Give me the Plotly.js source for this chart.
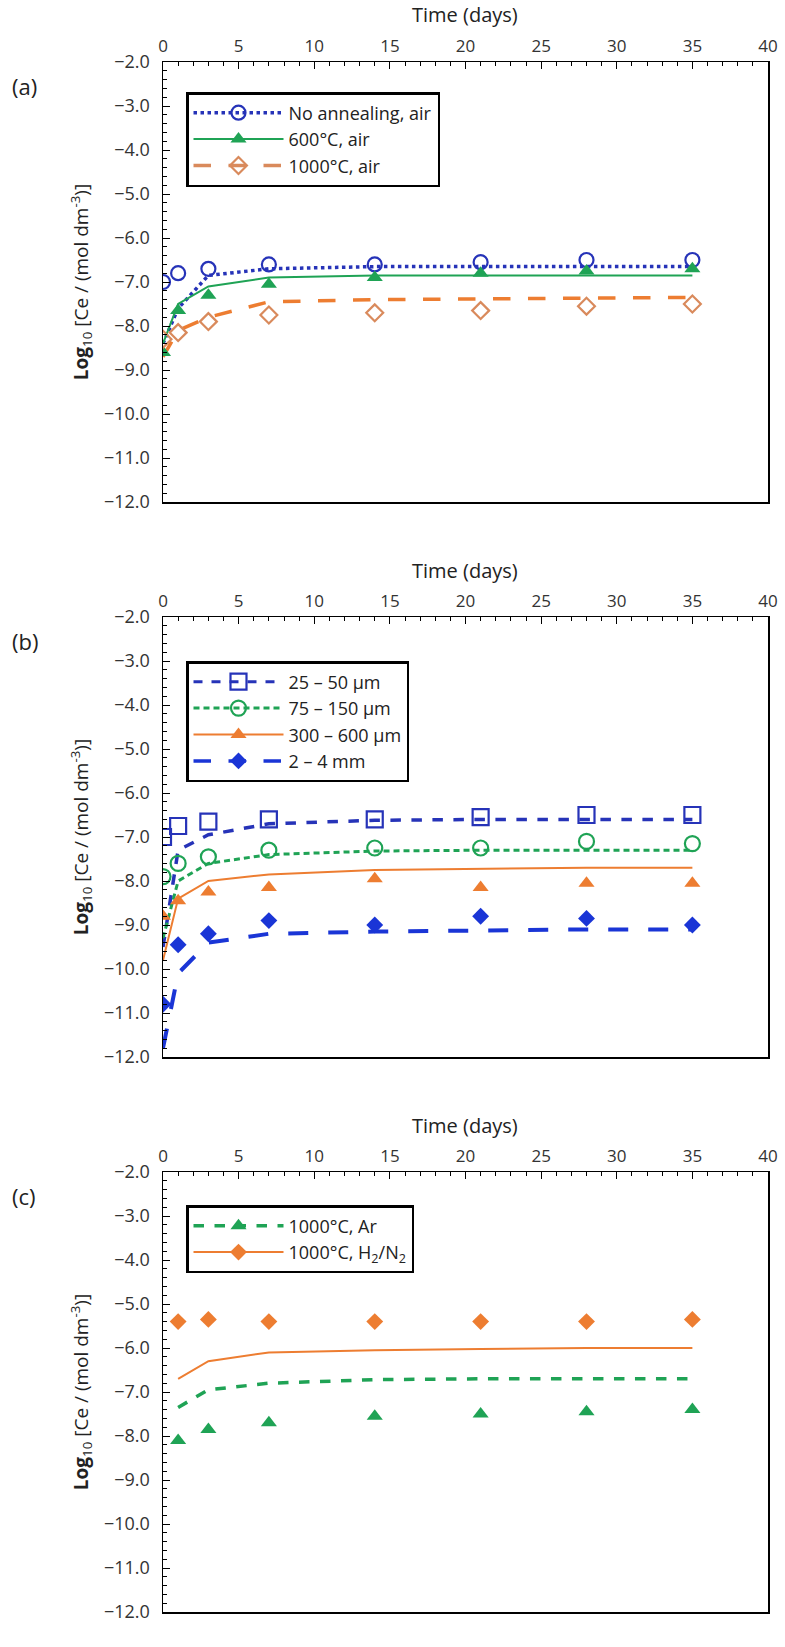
<!DOCTYPE html>
<html>
<head>
<meta charset="utf-8">
<script src="https://cdn.plot.ly/plotly-3.0.1.min.js"></script>
<style>body{margin:0;background:#fff}</style>
</head>
<body>
<div id="chart" style="width:785px;height:1647px"></div>
<script>
// sampling times (days)
const tData = [0, 1, 3, 7, 14, 21, 28, 35];
const tDataC = [1, 3, 7, 14, 21, 28, 35];

// (a) annealing atmosphere
const aNoAnnealPts = [-7.0, -6.8, -6.7, -6.6, -6.6, -6.55, -6.5, -6.5];
const a600Pts = [-8.6, -7.65, -7.3, -7.05, -6.9, -6.8, -6.75, -6.7];
const a1000Pts = [-8.3, -8.15, -7.9, -7.75, -7.7, -7.65, -7.55, -7.5];
const aNoAnnealFit = [-8.4, -7.6, -6.85, -6.7, -6.65, -6.65, -6.65, -6.65];
const a600Fit = [-8.4, -7.5, -7.1, -6.9, -6.85, -6.85, -6.85, -6.85];
const a1000Fit = [-8.7, -8.1, -7.8, -7.45, -7.4, -7.38, -7.36, -7.35];

// (b) particle size
const b25Pts = [-7.0, -6.75, -6.65, -6.6, -6.6, -6.55, -6.5, -6.5];
const b75Pts = [-7.9, -7.6, -7.45, -7.3, -7.25, -7.25, -7.1, -7.15];
const b300Pts = [-8.8, -8.45, -8.25, -8.15, -7.95, -8.15, -8.05, -8.05];
const b2mmPts = [-10.8, -9.45, -9.2, -8.9, -9.0, -8.8, -8.85, -9.0];
const b25Fit = [-9.5, -7.3, -6.95, -6.7, -6.62, -6.6, -6.6, -6.6];
const b75Fit = [-9.3, -8.0, -7.6, -7.4, -7.32, -7.3, -7.3, -7.3];
const b300Fit = [-9.8, -8.4, -8.0, -7.85, -7.75, -7.72, -7.7, -7.7];
const b2mmFit = [-11.8, -10.1, -9.4, -9.2, -9.15, -9.12, -9.1, -9.1];

// (c) 1000 °C, different gas
const cArPts = [-8.1, -7.85, -7.7, -7.55, -7.5, -7.45, -7.4];
const cH2Pts = [-5.4, -5.35, -5.4, -5.4, -5.4, -5.4, -5.35];
const cArFit = [-7.35, -6.95, -6.8, -6.72, -6.7, -6.7, -6.7];
const cH2Fit = [-6.7, -6.3, -6.1, -6.05, -6.02, -6.0, -6.0];

const BLUE = '#2633b8', BLUE2 = '#1a35d6', GREEN = '#1fa355', ORANGE = '#ed7d31', TAN = '#d98a5c';
const W = 785, H = 1647;
const FONT = 'Open Sans, Liberation Sans, sans-serif';

const mk = (sym, color, size) => ({symbol: sym, size: size, color: color,
  line: {color: color, width: sym.endsWith('-open') ? 2.2 : 0}});
const pts = (x, y, ax, sym, color, size) => ({
  x: x, y: y, xaxis: 'x' + ax, yaxis: 'y' + ax, mode: 'markers', type: 'scatter', showlegend: false,
  marker: mk(sym, color, size)
});
const fit = (x, y, ax, color, dash, width) => ({
  x: x, y: y, xaxis: 'x' + ax, yaxis: 'y' + ax, mode: 'lines', type: 'scatter', showlegend: false,
  line: {color: color, dash: dash, width: width}
});
// legend-only entries (marker + line sample)
const leg = (name, ax, legend, sym, color, size, dash, width) => ({
  x: [null], y: [null], xaxis: 'x' + ax, yaxis: 'y' + ax, mode: 'lines+markers', type: 'scatter',
  name: name, legend: legend, marker: mk(sym, color, size),
  line: {color: color, dash: dash, width: width}
});

const traces = [
  fit(tData, aNoAnnealFit, '', BLUE, 'dot', 3.5),
  fit(tData, a600Fit, '', GREEN, 'solid', 2),
  fit(tData, a1000Fit, '', ORANGE, 'longdash', 3.5),
  pts(tData, aNoAnnealPts, '', 'circle-open', BLUE, 14),
  pts(tData, a600Pts, '', 'triangle-up', GREEN, 14),
  pts(tData, a1000Pts, '', 'diamond-open', TAN, 13),
  leg('No annealing, air', '', 'legend', 'circle-open', BLUE, 14, 'dot', 3.5),
  leg('600°C, air', '', 'legend', 'triangle-up', GREEN, 14, 'solid', 2),
  leg('1000°C, air', '', 'legend', 'diamond-open', TAN, 13, 'longdash', 3.5),

  fit(tData, b25Fit, '2', BLUE, 'dash', 3.5),
  fit(tData, b75Fit, '2', GREEN, '6px,4px', 3),
  fit(tData, b300Fit, '2', ORANGE, 'solid', 2),
  fit(tData, b2mmFit, '2', BLUE2, 'longdash', 4),
  pts(tData, b25Pts, '2', 'square-open', BLUE, 16),
  pts(tData, b75Pts, '2', 'circle-open', GREEN, 15),
  pts(tData, b300Pts, '2', 'triangle-up', ORANGE, 14),
  pts(tData, b2mmPts, '2', 'diamond', BLUE2, 13),
  leg('25 – 50 µm', '2', 'legend2', 'square-open', BLUE, 16, 'dash', 3),
  leg('75 – 150 µm', '2', 'legend2', 'circle-open', GREEN, 15, '6px,4px', 3),
  leg('300 – 600 µm', '2', 'legend2', 'triangle-up', ORANGE, 14, 'solid', 2),
  leg('2 – 4 mm', '2', 'legend2', 'diamond', BLUE2, 13, 'longdash', 3.5),

  fit(tDataC, cArFit, '3', GREEN, 'dash', 3.5),
  fit(tDataC, cH2Fit, '3', ORANGE, 'solid', 2),
  pts(tDataC, cArPts, '3', 'triangle-up', GREEN, 14),
  pts(tDataC, cH2Pts, '3', 'diamond', ORANGE, 13),
  leg('1000°C, Ar', '3', 'legend3', 'triangle-up', GREEN, 14, 'dash', 3.5),
  leg('1000°C, H<sub>2</sub>/N<sub>2</sub>', '3', 'legend3', 'diamond', ORANGE, 13, 'solid', 2)
];

const tops = [62, 617, 1172];   // pixel top of each plot area
const PH = 440;                  // plot area height
const xdom = [163 / W, 768 / W];
const xAx = (anchor) => ({
  domain: xdom, anchor: anchor, side: 'top', range: [0, 40], dtick: 5,
  ticks: 'inside', ticklen: 7, tickcolor: '#000', showline: true, linecolor: '#000', linewidth: 1.5,
  mirror: true, showgrid: false, zeroline: false, ticklabelstandoff: 2,
  minor: {ticks: 'inside', dtick: 1, ticklen: 4, tickcolor: '#000'},
  tickfont: {size: 17, color: '#333'}
});
const yAx = (anchor, top) => ({
  domain: [1 - (top + PH) / H, 1 - top / H], anchor: anchor, range: [-12, -2], dtick: 1, tickformat: '.1f',
  ticks: 'inside', ticklen: 7, tickcolor: '#000', showline: true, linecolor: '#000', linewidth: 1.5,
  mirror: true, showgrid: false, zeroline: false, ticklabelstandoff: 8,
  minor: {ticks: 'inside', dtick: 0.2, ticklen: 4, tickcolor: '#000'},
  tickfont: {size: 18, color: '#333'},
  title: {text: '<b>Log</b><sub>10</sub> [Ce / (mol dm<sup>-3</sup>)]', font: {size: 19, color: '#222'}, standoff: 10}
});
const legBox = (top) => ({
  x: 186 / W, y: 1 - top / H, xanchor: 'left', yanchor: 'top', bgcolor: '#fff', bordercolor: '#000', borderwidth: 2.5,
  font: {size: 18, color: '#222', family: FONT}, itemwidth: 90, tracegroupgap: 4
});
const note = (text, x, y, size, xanchor) => ({
  text: text, xref: 'paper', yref: 'paper', x: x / W, y: 1 - y / H, xanchor: xanchor, yanchor: 'middle',
  showarrow: false, font: {size: size, color: '#222'}
});

const layout = {
  width: W, height: H, margin: {l: 0, r: 0, t: 0, b: 0},
  paper_bgcolor: '#fff', plot_bgcolor: '#fff',
  font: {family: FONT},
  xaxis: xAx('y'), yaxis: yAx('x', tops[0]),
  xaxis2: xAx('y2'), yaxis2: yAx('x2', tops[1]),
  xaxis3: xAx('y3'), yaxis3: yAx('x3', tops[2]),
  legend: legBox(tops[0] + 30),
  legend2: legBox(tops[1] + 44),
  legend3: legBox(tops[2] + 33),
  annotations: [
    ...tops.map(t => note('Time (days)', 465, t - 47, 20, 'center')),
    note('(a)', 10, tops[0] + 24, 22, 'left'), note('(b)', 10, tops[1] + 24, 22, 'left'),
    note('(c)', 10, tops[2] + 24, 22, 'left')
  ]
};

Plotly.newPlot('chart', traces, layout, {displayModeBar: false, staticPlot: true});
</script>
</body>
</html>
